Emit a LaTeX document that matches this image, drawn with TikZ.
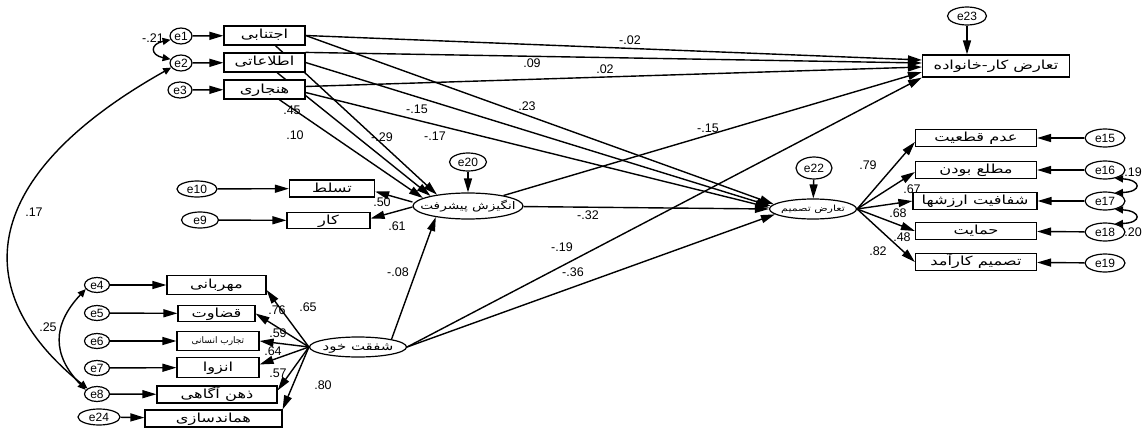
\documentclass[tikz,border=0pt]{standalone}
\usepackage{fontspec}
\setmainfont{Liberation Sans}
\newfontfamily\fa[Script=Arabic,FakeStretch=1.3]{DejaVu Sans}
\newfontfamily\fan[Script=Arabic]{DejaVu Sans}
\TeXXeTstate=1
\usetikzlibrary{arrows.meta,shapes.geometric,calc}
\pgfdeclarelayer{bg}
\pgfsetlayers{bg,main}
\begin{document}
\begin{tikzpicture}[x=1pt,y=-1pt,
  every node/.style={inner sep=0pt},
  box/.style={draw, fill=white, line width=1.2pt, rectangle, text height=7pt, text depth=0pt, font=\fa\fontsize{12.5}{13}\selectfont},
  lv/.style={draw, fill=white, line width=1.2pt, ellipse, text height=7pt, text depth=0pt, font=\fa\fontsize{10.5}{11}\selectfont},
  err/.style={draw, fill=white, line width=1.2pt, ellipse, font=\fontsize{12}{12}\selectfont},
  lab/.style={font=\fontsize{12.5}{12}\selectfont},
  arr/.style={line width=1.4pt, -{Triangle[length=14pt,width=8pt]}},
  cov/.style={line width=1.4pt, {Triangle[length=8pt,width=7pt]}-{Triangle[length=8pt,width=7pt]}},
]
\path[use as bounding box] (0,0) rectangle (1143,428);
% observed boxes
\node[box, minimum width=81pt, minimum height=19pt] (b1) at (264.5,35.5) {\beginR اجتنابی\endR};
\node[box, minimum width=81pt, minimum height=19pt] (b2) at (264.5,62.5) {\beginR اطلاعاتی\endR};
\node[box, minimum width=81pt, minimum height=19pt] (b3) at (264.5,89.5) {\beginR هنجاری\endR};
\node[box, minimum width=147pt, minimum height=22pt] (tk) at (996,66) {\beginR تعارض کار-خانواده\endR};
\node[box, minimum width=85pt, minimum height=17pt] (tsl) at (332,188.5) {\beginR تسلط\endR};
\node[box, minimum width=83pt, minimum height=16pt] (kar) at (328.5,220.5) {\beginR کار\endR};
\node[box, minimum width=99pt, minimum height=19pt] (m1) at (216.5,285) {\beginR مهربانی\endR};
\node[box, minimum width=77pt, minimum height=16pt] (m2) at (216.5,313.5) {\beginR قضاوت\endR};
\node[box, minimum width=82pt, minimum height=19pt, text height=5pt, font=\fan\fontsize{9}{10}\selectfont] (m3) at (218,341) {\beginR تجارب انسانی\endR};
\node[box, minimum width=82pt, minimum height=20pt] (m4) at (218,367.5) {\beginR انزوا\endR};
\node[box, minimum width=120pt, minimum height=17pt] (m5) at (217,394.5) {\beginR ذهن آگاهی\endR};
\node[box, minimum width=137pt, minimum height=17pt] (m6) at (213.5,418.5) {\beginR هماندسازی\endR};
\node[box, minimum width=121pt, minimum height=17pt] (r1) at (976,138) {\beginR عدم قطعیت\endR};
\node[box, minimum width=121pt, minimum height=17pt] (r2) at (976,170) {\beginR مطلع بودن\endR};
\node[box, minimum width=124pt, minimum height=17pt] (r3) at (975,201) {\beginR شفافیت ارزشها\endR};
\node[box, minimum width=121pt, minimum height=17pt] (r4) at (976,231) {\beginR حمایت\endR};
\node[box, minimum width=121pt, minimum height=17pt] (r5) at (976,262) {\beginR تصمیم کارآمد\endR};
% latent variables
\node[lv, minimum width=110pt, minimum height=26pt] (ang) at (468,206) {\makebox[0pt]{\beginR انگیزش پیشرفت\endR}};
\node[lv, minimum width=87pt, minimum height=20pt, text height=5pt, font=\fa\fontsize{8.5}{9}\selectfont] (tt) at (813,209) {\makebox[0pt]{\beginR تعارض تصمیم\endR}};
\node[lv, minimum width=97pt, minimum height=20pt, font=\fa\fontsize{11.5}{12}\selectfont] (sh) at (358,347) {\makebox[0pt]{\beginR شفقت خود\endR}};
% error terms
\node[err, minimum width=22pt, minimum height=16pt] (e1) at (181,36) {e1};
\node[err, minimum width=22pt, minimum height=16pt] (e2) at (181,63) {e2};
\node[err, minimum width=24pt, minimum height=16pt] (e3) at (180,90) {e3};
\node[err, minimum width=40pt, minimum height=16pt] (e10) at (197,189) {e10};
\node[err, minimum width=37pt, minimum height=16pt] (e9) at (200,220) {e9};
\node[err, minimum width=37pt, minimum height=18pt] (e20) at (468,162) {e20};
\node[err, minimum width=36pt, minimum height=22pt] (e22) at (814,168) {e22};
\node[err, minimum width=39pt, minimum height=18pt] (e23) at (967,16) {e23};
\node[err, minimum width=40pt, minimum height=18pt] (e15) at (1105,138) {e15};
\node[err, minimum width=40pt, minimum height=18pt] (e16) at (1105,170) {e16};
\node[err, minimum width=40pt, minimum height=18pt] (e17) at (1105,201) {e17};
\node[err, minimum width=40pt, minimum height=18pt] (e18) at (1105,232) {e18};
\node[err, minimum width=40pt, minimum height=18pt] (e19) at (1105,263) {e19};
\node[err, minimum width=25pt, minimum height=15pt] (e4) at (97,285) {e4};
\node[err, minimum width=25pt, minimum height=15pt] (e5) at (97,313) {e5};
\node[err, minimum width=25pt, minimum height=15pt] (e6) at (97,341) {e6};
\node[err, minimum width=25pt, minimum height=15pt] (e7) at (97,368) {e7};
\node[err, minimum width=25pt, minimum height=15pt] (e8) at (97,394) {e8};
\node[err, minimum width=42pt, minimum height=16pt] (e24) at (99,417) {e24};
% coefficient labels
\node[lab] (l1) at (153,38) {-.21};
\node[lab] (l2) at (34,212) {.17};
\node[lab] (l3) at (48,327) {.25};
\node[lab] (l4) at (292,110) {.45};
\node[lab] (l5) at (295,135) {.10};
\node[lab] (l6) at (382,137) {-.29};
\node[lab] (l7) at (417,109) {-.15};
\node[lab] (l8) at (435,136) {-.17};
\node[lab] (l9) at (630,40) {-.02};
\node[lab] (l10) at (532,63) {.09};
\node[lab] (l11) at (605,69) {.02};
\node[lab] (l12) at (527,106) {.23};
\node[lab] (l13) at (708,128) {-.15};
\node[lab] (l14) at (382,202) {.50};
\node[lab] (l15) at (397,226) {.61};
\node[lab] (l16) at (588,215) {-.32};
\node[lab] (l17) at (562,247) {-.19};
\node[lab] (l18) at (573,272) {-.36};
\node[lab] (l19) at (398,272) {-.08};
\node[lab] (l20) at (308,307) {.65};
\node[lab] (l21) at (277,310) {.76};
\node[lab] (l22) at (278,333) {.59};
\node[lab] (l23) at (273,351) {.64};
\node[lab] (l24) at (278,373) {.57};
\node[lab] (l25) at (323,385) {.80};
\node[lab] (l26) at (868,165) {.79};
\node[lab] (l27) at (912,189) {.67};
\node[lab] (l28) at (898,213) {.68};
\node[lab] (l29) at (902,237) {.48};
\node[lab] (l30) at (878,251) {.82};
\node[lab, anchor=east] (l31) at (1142,172) {.19};
\node[lab, anchor=east] (l32) at (1142,232) {.20};
\begin{pgfonlayer}{bg}
\fill[white] (0,0) rectangle (1143,428);
% error arrows
\draw[arr] (e1) -- (b1);
\draw[arr] (e2) -- (b2);
\draw[arr] (e3) -- (b3);
\draw[arr] (e10) -- (tsl);
\draw[arr] (e9) -- (kar);
\draw[arr] (e4) -- (m1);
\draw[arr] (e5) -- (m2);
\draw[arr] (e6) -- (m3);
\draw[arr] (e7) -- (m4);
\draw[arr] (e8) -- (m5);
\draw[arr] (e24) -- (m6);
\draw[arr] (e15) -- (r1);
\draw[arr] (e16) -- (r2);
\draw[arr] (e17) -- (r3);
\draw[arr] (e18) -- (r4);
\draw[arr] (e19) -- (r5);
\draw[arr] (e20) -- (ang);
\draw[arr] (e22) -- (tt);
\draw[arr] (e23) -- (e23 |- tk.north);
% structural paths
\draw[arr] (b1.east) -- ($(tk.west)+(0,-6)$);
\draw[arr] (b2.north east) -- ($(tk.west)+(0,-3)$);
\draw[arr] ($(b3.east)+(0,-3)$) -- ($(tk.west)+(0,1)$);
\draw[arr] (b1.east) -- (tt.173);
\draw[arr] (b2.east) -- (tt.176);
\draw[arr] ($(b3.east)+(0,3)$) -- (tt.178);
\draw[arr] (b1) -- (ang.160);
\draw[arr] (b2) -- (ang.165);
\draw[arr] (b3) -- (ang.170);
\draw[arr] ($(ang.west)+(0,-4)$) -- ($(tsl.east)+(0,3)$);
\draw[arr] ($(ang.west)+(0,1)$) -- ($(kar.east)+(0,-2)$);
\draw[arr] (ang) -- ($(tk.west)+(0,6)$);
\draw[arr] (ang) -- (tt.180);
\draw[arr] (sh.13) -- (ang.199);
\draw[arr] (sh.east) -- (tk.south west);
\draw[arr] (sh.east) -- (tt.188);
\draw[arr] (sh.west) -- ($(m1.east)+(0,5)$);
\draw[arr] (sh.west) -- (m2.east);
\draw[arr] (sh.west) -- (m3.east);
\draw[arr] (sh.west) -- ($(m4.east)+(0,-3)$);
\draw[arr] (sh.west) -- ($(m5.east)+(0,-4)$);
\draw[arr] (sh.west) -- (m6.north east);
\draw[arr] (tt.east) -- ($(r1.west)+(0,4)$);
\draw[arr] (tt.east) -- ($(r2.west)+(0,2)$);
\draw[arr] (tt.east) -- (r3.west);
\draw[arr] (tt.east) -- (r4.west);
\draw[arr] (tt.east) -- (r5.west);
% covariances
\draw[cov] (e1.200) .. controls (150,44) and (150,55) .. (e2.160);
\draw[cov] (e2.205) .. controls (-20,175) and (-35,290) .. (e8.150);
\draw[cov] (e4.200) .. controls (52,325) and (52,355) .. (e8.160);
\draw[cov] (e16.-40) .. controls (1142,180) and (1142,192) .. (e17.40);
\draw[cov] (e17.-40) .. controls (1142,211) and (1142,223) .. (e18.40);
\end{pgfonlayer}
\end{tikzpicture}
\end{document}
